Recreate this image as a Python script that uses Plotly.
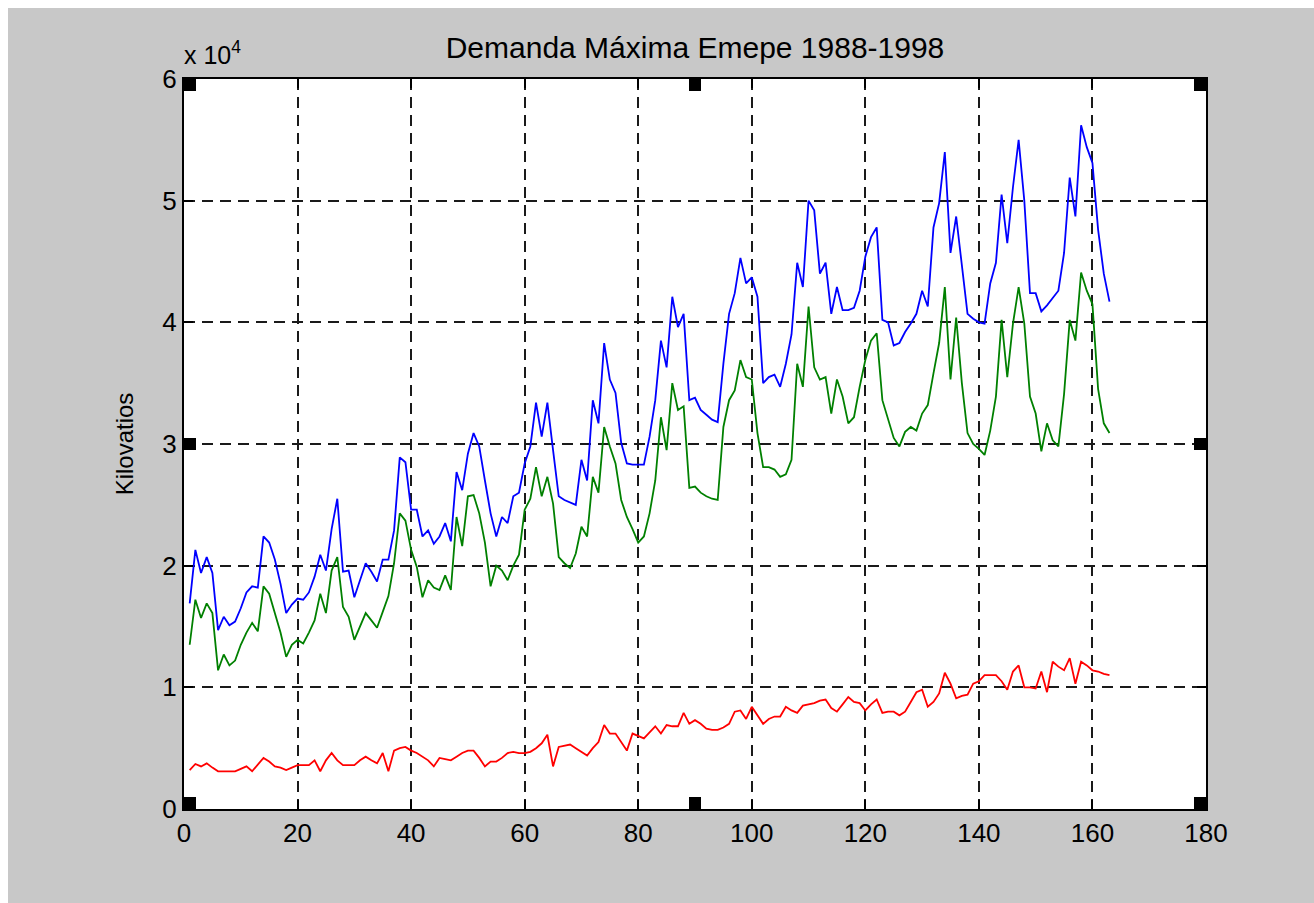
import plotly.graph_objects as go

# Values in units of 10^4 kW (axis shows "x 10^4")
meses = list(range(1, 164))

serie_azul = [1.69,2.13,1.94,2.07,1.94,1.47,1.58,1.51,1.54,1.65,
1.78,1.83,1.82,2.24,2.19,2.05,1.85,1.61,1.68,1.73,
1.72,1.78,1.91,2.09,1.96,2.30,2.55,1.95,1.96,1.74,
1.88,2.02,1.95,1.87,2.05,2.05,2.29,2.89,2.85,2.46,
2.46,2.24,2.29,2.18,2.24,2.35,2.20,2.77,2.62,2.92,
3.09,2.98,2.70,2.43,2.24,2.40,2.35,2.57,2.60,2.84,
2.98,3.34,3.06,3.34,2.95,2.57,2.54,2.52,2.50,2.87,
2.70,3.36,3.17,3.83,3.53,3.42,3.01,2.84,2.83,2.83,
2.83,3.06,3.36,3.85,3.63,4.21,3.96,4.07,3.36,3.38,
3.28,3.24,3.20,3.18,3.66,4.07,4.24,4.53,4.32,4.37,
4.21,3.50,3.55,3.57,3.47,3.66,3.90,4.49,4.29,5.00,
4.92,4.40,4.49,4.07,4.29,4.10,4.10,4.12,4.26,4.54,
4.70,4.78,4.02,4.00,3.81,3.83,3.92,3.99,4.07,4.26,
4.13,4.78,4.98,5.40,4.57,4.87,4.46,4.07,4.03,4.00,
3.99,4.32,4.49,5.05,4.65,5.11,5.50,5.00,4.24,4.24,
4.09,4.14,4.20,4.26,4.57,5.19,4.87,5.62,5.44,5.31,
4.76,4.40,4.17]

serie_verde = [1.35,1.72,1.57,1.69,1.61,1.14,1.27,1.18,1.22,1.35,
1.45,1.53,1.46,1.83,1.77,1.62,1.45,1.25,1.35,1.39,
1.36,1.45,1.55,1.77,1.61,1.96,2.07,1.66,1.58,1.39,
1.50,1.61,1.55,1.49,1.62,1.75,2.02,2.43,2.37,2.13,
1.99,1.74,1.88,1.82,1.80,1.92,1.80,2.40,2.16,2.57,
2.58,2.43,2.19,1.83,2.00,1.96,1.88,2.00,2.09,2.46,
2.55,2.81,2.57,2.73,2.51,2.07,2.02,1.98,2.10,2.32,
2.24,2.73,2.60,3.14,2.98,2.84,2.54,2.40,2.30,2.19,
2.24,2.43,2.70,3.22,2.95,3.50,3.28,3.31,2.64,2.65,
2.60,2.57,2.55,2.54,3.14,3.36,3.44,3.69,3.55,3.53,
3.09,2.81,2.81,2.79,2.73,2.75,2.87,3.66,3.47,4.13,
3.63,3.53,3.55,3.25,3.53,3.39,3.17,3.22,3.47,3.69,
3.85,3.91,3.36,3.20,3.05,2.98,3.10,3.14,3.11,3.25,
3.32,3.58,3.83,4.29,3.53,4.04,3.50,3.09,3.00,2.96,
2.91,3.11,3.39,4.02,3.55,3.99,4.29,3.99,3.39,3.25,
2.94,3.17,3.03,2.98,3.41,4.02,3.85,4.41,4.26,4.15,
3.45,3.17,3.09]

serie_roja = [0.32,0.37,0.35,0.375,0.34,0.31,0.31,0.31,0.31,0.33,
0.35,0.31,0.37,0.42,0.39,0.35,0.34,0.32,0.34,0.36,
0.36,0.36,0.40,0.31,0.40,0.46,0.40,0.36,0.36,0.36,
0.40,0.43,0.40,0.375,0.46,0.31,0.48,0.50,0.51,0.48,
0.46,0.43,0.40,0.35,0.42,0.41,0.40,0.43,0.46,0.48,
0.48,0.42,0.35,0.39,0.39,0.42,0.46,0.47,0.46,0.46,
0.47,0.50,0.54,0.61,0.35,0.51,0.52,0.53,0.50,0.47,
0.44,0.50,0.55,0.69,0.62,0.62,0.55,0.48,0.62,0.60,
0.58,0.63,0.68,0.62,0.69,0.68,0.68,0.79,0.70,0.73,
0.70,0.66,0.65,0.65,0.67,0.70,0.80,0.81,0.74,0.84,
0.77,0.70,0.74,0.76,0.76,0.84,0.81,0.79,0.85,0.86,
0.87,0.89,0.90,0.83,0.80,0.86,0.92,0.88,0.87,0.81,
0.86,0.90,0.79,0.80,0.80,0.77,0.80,0.88,0.96,0.98,
0.84,0.88,0.95,1.12,1.03,0.91,0.93,0.94,1.03,1.05,
1.10,1.10,1.10,1.05,0.98,1.13,1.18,1.00,1.00,0.99,
1.13,0.96,1.21,1.17,1.14,1.24,1.03,1.21,1.18,1.14,
1.13,1.11,1.10]

x_ticks = [0, 20, 40, 60, 80, 100, 120, 140, 160, 180]
y_ticks = [0, 1, 2, 3, 4, 5, 6]
y_ticktext = ["0", "1", "2", "3", "4", "5", "6"]

FONT = "Liberation Sans, Arial, sans-serif"
GREY = "#c8c8c8"

fig = go.Figure()
for serie, color in [(serie_azul, "#0000ff"), (serie_verde, "#008000"), (serie_roja, "#ff0000")]:
    fig.add_trace(go.Scatter(x=meses, y=serie, mode="lines",
                             line=dict(color=color, width=1.8), showlegend=False,
                             hoverinfo="x+y"))

axis_common = dict(
    showline=True, linecolor="black", linewidth=2, mirror="ticks",
    ticks="inside", ticklen=9, tickwidth=2, tickcolor="black",
    showgrid=True, gridcolor="#1a1a1a", gridwidth=2, griddash="11px,7px",
    zeroline=False, tickfont=dict(family=FONT, size=26, color="black"),
)

fig.update_xaxes(range=[0, 180], tickvals=x_ticks, **axis_common)
fig.update_yaxes(range=[0, 6], tickvals=y_ticks, ticktext=y_ticktext,
                 title=dict(text="Kilovatios", font=dict(family=FONT, size=24, color="black"), standoff=22),
                 **axis_common)

# selection-handle squares drawn on the axes box
handles = []
def square(xref, xanchor, yref, yanchor, xo, yo):
    handles.append(dict(type="rect", xref=xref, yref=yref, xsizemode="pixel", ysizemode="pixel",
                        xanchor=xanchor, yanchor=yanchor, x0=xo[0], x1=xo[1], y0=yo[0], y1=yo[1],
                        fillcolor="black", line=dict(width=0), layer="above"))
square("paper", 0, "paper", 1, (0, 12), (-12, 0))
square("x", 90, "paper", 1, (-6, 6), (-12, 0))
square("paper", 1, "paper", 1, (-12, 0), (-12, 0))
square("paper", 0, "y", 3, (0, 12), (-6, 6))
square("paper", 1, "y", 3, (-12, 0), (-6, 6))
square("paper", 0, "paper", 0, (0, 12), (0, 12))
square("x", 90, "paper", 0, (-6, 6), (0, 12))
square("paper", 1, "paper", 0, (-12, 0), (0, 12))

W, H = 1306, 895
fig.update_layout(
    width=W, height=H, autosize=False,
    margin=dict(l=176, r=108, t=71, b=94),
    paper_bgcolor=GREY, plot_bgcolor="white",
    title=dict(text="Demanda Máxima Emepe 1988-1998", x=0.5, xanchor="center", xref="paper",
               y=1 - 39 / H, yanchor="middle", yref="container",
               font=dict(family=FONT, size=30, color="black")),
    shapes=handles,
    annotations=[dict(text="x 10<sup>4</sup>", xref="paper", yref="paper", x=0, y=1,
                      xanchor="left", yanchor="bottom", yshift=8, xshift=-2, showarrow=False,
                      font=dict(family=FONT, size=25, color="black"))],
)

fig.write_html(
    "out.html",
    post_script="document.body.style.margin='0';document.body.style.padding='8px 0 0 8px';"
                "document.body.style.overflow='hidden';document.body.style.background='white';",
)
